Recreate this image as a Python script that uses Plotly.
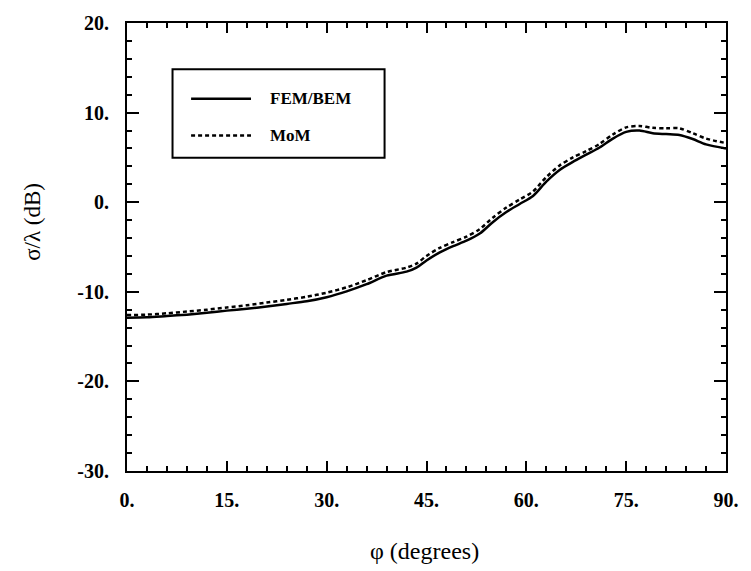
import plotly.graph_objects as go

# ---- data ----
phi_fem = [0, 3, 6, 9, 12, 15, 18, 21, 24, 27, 30, 33, 36, 39, 42, 43.5, 45, 47, 49, 51, 53, 55, 57, 59,
           61, 63, 65, 67, 69, 71, 73, 75, 77, 79, 81, 83, 85, 87, 90]
rcs_fem = [-12.9, -12.85, -12.7, -12.55, -12.35, -12.1, -11.9, -11.65, -11.35, -11.05, -10.6, -9.95, -9.15,
           -8.2, -7.75, -7.3, -6.5, -5.6, -4.9, -4.3, -3.5, -2.2, -1.1, -0.2, 0.7, 2.3, 3.6, 4.5, 5.3, 6.1,
           7.1, 7.85, 8.0, 7.7, 7.6, 7.5, 7.05, 6.45, 6.0]
phi_mom = phi_fem
rcs_mom = [-12.6, -12.55, -12.4, -12.2, -12.0, -11.75, -11.5, -11.2, -10.9, -10.55, -10.1, -9.5, -8.7,
           -7.8, -7.3, -6.85, -6.0, -5.1, -4.45, -3.85, -3.0, -1.7, -0.6, 0.3, 1.2, 2.8, 4.1, 5.0, 5.7, 6.5,
           7.55, 8.35, 8.5, 8.3, 8.25, 8.25, 7.7, 7.1, 6.6]

x_tickvals = [0, 15, 30, 45, 60, 75, 90]
x_ticktext = ["0.", "15.", "30.", "45.", "60.", "75.", "90."]
y_tickvals = [-30, -20, -10, 0, 10, 20]
y_ticktext = ["-30.", "-20.", "-10.", "0.", "10.", "20."]

series_names = ["FEM/BEM", "MoM"]
dash_styles = ["solid", "4px,3px"]

SERIF = "Liberation Serif, Times New Roman, serif"

fig = go.Figure()
fig.add_trace(go.Scatter(x=phi_fem, y=rcs_fem, mode="lines", name=series_names[0],
                         line=dict(color="black", width=2.5, dash=dash_styles[0], shape="spline", smoothing=0.8)))
fig.add_trace(go.Scatter(x=phi_mom, y=rcs_mom, mode="lines", name=series_names[1],
                         line=dict(color="black", width=2.5, dash=dash_styles[1], shape="spline", smoothing=0.8)))

axis_common = dict(
    showgrid=False, zeroline=False, showline=True, linecolor="black", linewidth=2,
    mirror="ticks", ticks="inside", tickcolor="black", tickwidth=2,
    tickfont=dict(family=SERIF, size=20, color="black", weight="bold"),
)

fig.update_xaxes(range=[0, 90], tickmode="array", tickvals=x_tickvals, ticktext=x_ticktext,
                 ticklen=10, ticklabelstandoff=10,
                 minor=dict(dtick=3, ticks="inside", ticklen=5, tickwidth=2, tickcolor="black"),
                 **axis_common)
fig.update_yaxes(range=[-30, 20], tickmode="array", tickvals=y_tickvals, ticktext=y_ticktext,
                 ticklen=12, ticklabelstandoff=12,
                 minor=dict(dtick=2, ticks="inside", ticklen=5, tickwidth=2, tickcolor="black"),
                 **axis_common)

# legend box (drawn manually to match the original)
lx0, lx1, ly0, ly1 = 0.076, 0.430, 0.699, 0.897
shapes = [dict(type="rect", xref="paper", yref="paper", x0=lx0, x1=lx1, y0=ly0, y1=ly1,
               line=dict(color="black", width=2), fillcolor="white")]
annotations = []
for i, (nm, ds) in enumerate(zip(series_names, dash_styles)):
    yy = [0.831, 0.749][i]
    shapes.append(dict(type="line", xref="paper", yref="paper", x0=0.107, x1=0.207, y0=yy, y1=yy,
                       line=dict(color="black", width=2.5, dash=ds)))
    annotations.append(dict(xref="paper", yref="paper", x=0.236, y=yy, text=nm, showarrow=False,
                            xanchor="left", yanchor="middle",
                            font=dict(family=SERIF, size=17, color="black", weight="bold")))

annotations.append(dict(xref="paper", yref="paper", x=0.497, y=-0.178, text="φ (degrees)", showarrow=False,
                        xanchor="center", yanchor="middle",
                        font=dict(family=SERIF, size=24, color="black")))
annotations.append(dict(xref="paper", yref="paper", x=-0.157, y=0.556, text="σ/λ (dB)", showarrow=False,
                        xanchor="center", yanchor="middle", textangle=-90,
                        font=dict(family=SERIF, size=23, color="black")))

fig.update_layout(
    width=751, height=571,
    margin=dict(l=127, r=19, t=16, b=100),
    paper_bgcolor="white", plot_bgcolor="white",
    showlegend=False,
    shapes=shapes, annotations=annotations,
)

fig.write_html("out.html", config={"displayModeBar": False},
               post_script="document.body.style.margin='0';")
